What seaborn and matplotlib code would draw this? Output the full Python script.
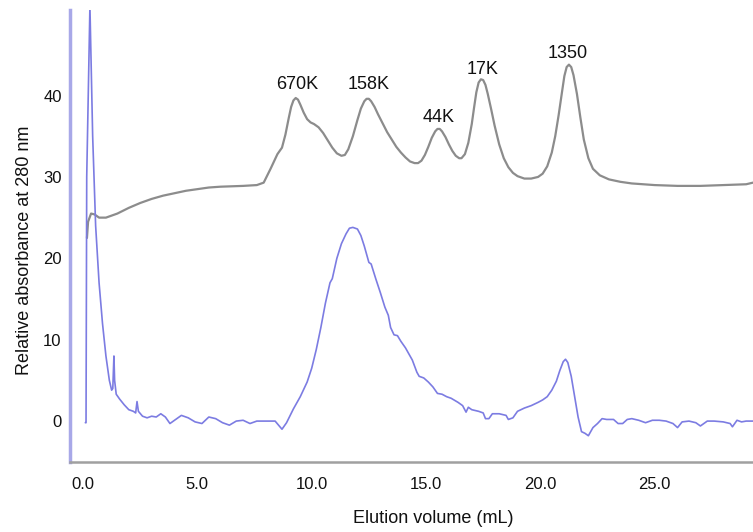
import matplotlib
matplotlib.use("Agg")
import matplotlib.pyplot as plt
import seaborn as sns
import pandas as pd

# size-exclusion standards trace (grey)
std_volume = [0.17, 0.22, 0.35, 0.5, 0.7, 1.0, 1.5, 2.0, 2.5, 3.0, 3.5, 4.0, 4.5, 5.0, 5.5,
              6.0, 7.0, 7.6, 7.9, 8.2, 8.5, 8.7, 8.85, 9.0, 9.1, 9.2, 9.3, 9.4, 9.5, 9.65,
              9.8, 9.95, 10.1, 10.3, 10.5, 10.7, 10.9, 11.1, 11.3, 11.45, 11.6, 11.8, 12.0,
              12.15, 12.3, 12.4, 12.5, 12.6, 12.75, 12.9, 13.1, 13.3, 13.5, 13.7, 13.9, 14.1,
              14.3, 14.5, 14.65, 14.8, 14.95, 15.1, 15.25, 15.4, 15.5, 15.6, 15.7, 15.85,
              16.0, 16.15, 16.3, 16.45, 16.55, 16.7, 16.85, 17.0, 17.1, 17.2, 17.3, 17.4,
              17.5, 17.6, 17.7, 17.85, 18.0, 18.2, 18.4, 18.6, 18.8, 19.0, 19.3, 19.6, 19.9,
              20.1, 20.3, 20.5, 20.65, 20.8, 20.95, 21.05, 21.15, 21.25, 21.35, 21.45, 21.6,
              21.75, 21.9, 22.1, 22.3, 22.6, 23.0, 23.5, 24.0, 25.0, 26.0, 27.0, 28.0, 29.0, 29.3]
std_abs = [22.5, 24.5, 25.5, 25.4, 25.0, 25.0, 25.5, 26.2, 26.8, 27.3, 27.7, 28.0, 28.3, 28.5, 28.7,
           28.8, 28.9, 29.0, 29.3, 31.0, 32.8, 33.6, 35.2, 37.3, 38.6, 39.4, 39.7, 39.5, 38.9, 37.9,
           37.1, 36.7, 36.5, 36.1, 35.4, 34.5, 33.6, 32.9, 32.6, 32.7, 33.4, 35.0, 37.0,
           38.4, 39.3, 39.6, 39.6, 39.3, 38.6, 37.7, 36.6, 35.5, 34.6, 33.7, 33.0, 32.4,
           31.9, 31.7, 31.7, 32.0, 32.7, 33.7, 34.8, 35.6, 35.9, 35.9, 35.6, 34.9,
           34.0, 33.2, 32.6, 32.3, 32.3, 32.8, 34.2, 36.5, 38.5, 40.4, 41.6, 42.0,
           41.9, 41.3, 40.2, 38.3, 36.3, 34.0, 32.3, 31.2, 30.5, 30.1, 29.8, 29.8, 30.0,
           30.4, 31.3, 33.0, 35.0, 37.6, 40.5, 42.4, 43.5, 43.8, 43.5, 42.5, 40.2,
           37.3, 34.6, 32.3, 31.0, 30.2, 29.7, 29.4, 29.2, 29.0, 28.9, 28.9, 29.0, 29.1, 29.3]

# sample trace (blue)
smp_volume = [0.1, 0.13, 0.16, 0.3, 0.42, 0.55, 0.7, 0.85, 1.0, 1.15, 1.25, 1.3, 1.35, 1.38, 1.45,
              1.6, 1.8, 2.0, 2.2, 2.3, 2.36, 2.42, 2.6, 2.8, 3.0, 3.2, 3.4, 3.6, 3.8, 4.0, 4.3,
              4.6, 4.9, 5.2, 5.5, 5.8, 6.1, 6.4, 6.7, 7.0, 7.3, 7.6, 8.0, 8.4, 8.7, 8.9, 9.2,
              9.5, 9.8, 10.0, 10.2, 10.4, 10.6, 10.8, 10.9, 11.1, 11.3, 11.5, 11.65, 11.8, 12.0,
              12.15, 12.3, 12.5, 12.6, 12.8, 13.0, 13.2, 13.35, 13.45, 13.6, 13.75, 13.9, 14.1,
              14.3, 14.4, 14.6, 14.7, 14.9, 15.1, 15.3, 15.5, 15.7, 15.9, 16.1, 16.4, 16.6,
              16.75, 16.85, 17.0, 17.3, 17.5, 17.6, 17.75, 17.9, 18.2, 18.5, 18.6, 18.8, 19.0,
              19.3, 19.6, 19.9, 20.1, 20.3, 20.5, 20.7, 20.85, 21.0, 21.1, 21.2, 21.35, 21.5,
              21.65, 21.8, 21.95, 22.1, 22.3, 22.5, 22.7, 22.9, 23.2, 23.4, 23.6, 23.8, 24.0,
              24.3, 24.6, 24.9, 25.2, 25.5, 25.8, 26.0, 26.2, 26.5, 26.8, 27.0, 27.3, 27.6,
              28.0, 28.3, 28.4, 28.6, 28.8, 29.0, 29.3]
smp_abs = [-0.2, -0.2, 30.0, 51.0, 35.0, 24.0, 17.0, 12.0, 8.0, 5.0, 3.8, 4.0, 8.0, 5.0, 3.3,
           2.7, 2.0, 1.4, 1.2, 1.0, 2.4, 1.2, 0.6, 0.4, 0.6, 0.5, 0.9, 0.5, -0.3, 0.1, 0.7,
           0.4, -0.1, -0.3, 0.5, 0.3, -0.2, -0.5, 0.0, 0.1, -0.3, 0.0, 0.0, 0.0, -1.0, -0.2, 1.5,
           3.0, 4.8, 6.5, 8.8, 11.5, 14.5, 17.0, 17.5, 20.0, 21.8, 23.0, 23.7, 23.8, 23.6,
           22.8, 21.5, 19.5, 19.3, 17.5, 15.8, 14.0, 13.0, 11.5, 10.6, 10.5, 9.8, 9.0,
           8.0, 7.5, 6.0, 5.5, 5.3, 4.8, 4.2, 3.4, 3.3, 3.0, 2.8, 2.3, 1.9,
           1.1, 1.7, 1.4, 1.2, 1.0, 0.3, 0.3, 0.9, 0.9, 0.7, 0.2, 0.4, 1.2,
           1.6, 1.9, 2.3, 2.6, 3.0, 3.8, 4.9, 6.2, 7.3, 7.6, 7.2, 5.5, 3.0,
           0.5, -1.3, -1.5, -1.8, -0.8, -0.3, 0.3, 0.2, 0.2, -0.3, -0.3, 0.2, 0.3,
           0.1, -0.2, 0.1, 0.1, 0.0, -0.3, -0.8, -0.1, 0.0, -0.2, -0.6, 0.0, 0.0,
           -0.1, -0.3, -0.7, 0.1, -0.1, 0.0, 0.0]

# marker labels
marker_text = ["670K", "158K", "44K", "17K", "1350"]
marker_x = [9.35, 12.5, 15.55, 17.47, 21.2]
marker_y = [41.3, 41.3, 37.3, 43.2, 45.2]

x_ticks = [0, 5, 10, 15, 20, 25]
y_ticks = [0, 10, 20, 30, 40]

sns.set_theme(style="white")
plt.rcParams['font.family'] = ['Liberation Sans', 'DejaVu Sans']

std_df = pd.DataFrame({"volume": std_volume, "abs": std_abs})
smp_df = pd.DataFrame({"volume": smp_volume, "abs": smp_abs})

fig, ax = plt.subplots(figsize=(7.53, 5.32), dpi=100)
fig.subplots_adjust(left=0.093, right=1.0, bottom=0.132, top=0.981)

sns.lineplot(data=std_df, x="volume", y="abs", ax=ax, color="#8c8c8c",
             linewidth=1.6, sort=False, estimator=None)
sns.lineplot(data=smp_df, x="volume", y="abs", ax=ax, color="#7c7ce2",
             linewidth=1.2, sort=False, estimator=None)

for txt, tx, ty in zip(marker_text, marker_x, marker_y):
    ax.text(tx, ty, txt, ha="center", va="center", fontsize=13, color="#111111")

ax.set_xlim(-0.57, 29.3)
ax.set_ylim(-5.0, 50.5)
ax.set_xticks(x_ticks)
ax.set_xticklabels([f"{v:.1f}" for v in x_ticks])
ax.set_yticks(y_ticks)
ax.tick_params(axis="both", labelsize=12, length=0, colors="#111111")
ax.tick_params(axis="x", pad=11)
ax.tick_params(axis="y", pad=6)

ax.set_xlabel("Elution volume (mL)", fontsize=13, color="#111111")
ax.set_ylabel("Relative absorbance at 280 nm", fontsize=13, color="#111111")
# the labels sit off-centre in the original
ax.xaxis.set_label_coords(0.532, -0.106)
ax.yaxis.set_label_coords(-0.054, 0.469)

sns.despine(ax=ax, top=True, right=True)
ax.spines["left"].set_color("#a8a8e8")
ax.spines["left"].set_linewidth(2.5)
ax.spines["bottom"].set_color("#a0a0a0")
ax.spines["bottom"].set_linewidth(1.8)

fig.savefig("out.png", dpi=100)
